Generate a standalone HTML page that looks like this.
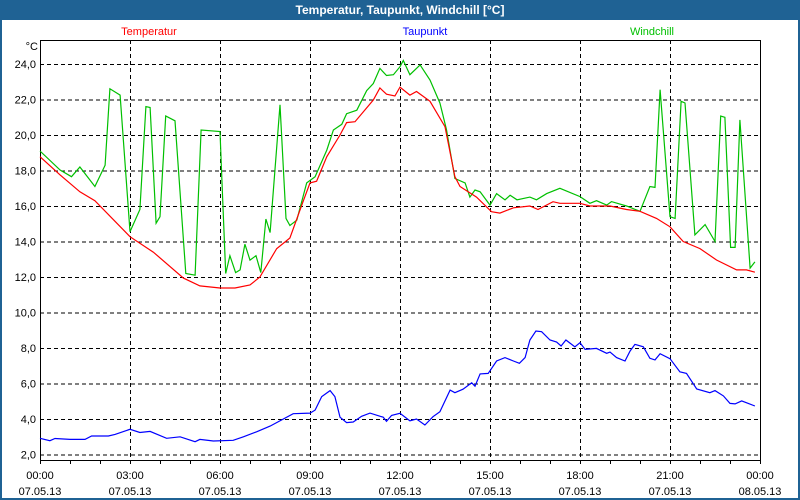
<!DOCTYPE html>
<html><head><meta charset="utf-8"><style>
html,body{margin:0;padding:0;background:#fff}
#wrap{position:absolute;left:0;top:0;width:800px;height:500px;box-sizing:border-box;border:2px solid #1f6294;border-top:none;background:#fff;overflow:hidden}
#title{position:absolute;left:0;top:0;width:800px;height:20px;background:#1f6294;color:#fff;font:bold 12px "Liberation Sans",sans-serif;text-align:center;line-height:20px;z-index:5}
svg{position:absolute;left:0;top:0;z-index:2}
text{font-family:"Liberation Sans",sans-serif;font-size:11px}
</style></head><body>
<div id="wrap"></div>
<div id="title">Temperatur, Taupunkt, Windchill [°C]</div>
<svg id="chart" width="800" height="500"></svg>
<script>
const yTicks=[2,4,6,8,10,12,14,16,18,20,22,24];
const yTickLabels=["2,0","4,0","6,0","8,0","10,0","12,0","14,0","16,0","18,0","20,0","22,0","24,0"];
const xTicks=[0,3,6,9,12,15,18,21,24];
const xTimeLabels=["00:00","03:00","06:00","09:00","12:00","15:00","18:00","21:00","00:00"];
const xDateLabels=["07.05.13","07.05.13","07.05.13","07.05.13","07.05.13","07.05.13","07.05.13","07.05.13","08.05.13"];
const tempHours=[0,0.67,1.33,1.83,3,3.78,4.78,5.33,6,6.5,7,7.33,7.89,8.33,8.78,9,9.22,9.56,10,10.22,10.5,11.11,11.33,11.55,11.83,12,12.33,12.55,13,13.5,13.83,14,14.55,15.05,15.33,15.78,16.33,16.6,17.1,17.33,18,18.33,19,19.55,20,20.55,21,21.44,22,22.55,23.22,23.55,23.83];
const tempValues=[18.78,17.75,16.8,16.3,14.27,13.4,11.94,11.5,11.38,11.38,11.55,12.0,13.6,14.2,16.3,17.3,17.4,18.78,20.0,20.7,20.75,21.97,22.65,22.3,22.2,22.7,22.25,22.45,21.9,20.47,17.65,17.1,16.5,15.68,15.6,15.9,16.0,15.8,16.24,16.15,16.15,16.0,16.0,15.8,15.7,15.3,14.83,14.0,13.6,12.96,12.4,12.4,12.27];
const windHours=[0,0.67,1.05,1.33,1.83,2.17,2.33,2.67,3,3.33,3.53,3.67,3.87,4,4.19,4.5,4.86,5.17,5.37,6,6.06,6.19,6.33,6.52,6.67,6.83,7,7.2,7.36,7.53,7.67,8,8.2,8.33,8.56,8.89,9.17,9.56,9.78,10.06,10.22,10.56,10.89,11.11,11.33,11.55,11.78,12,12.11,12.33,12.67,13,13.33,13.55,13.83,14.17,14.33,14.5,14.67,15,15.22,15.5,15.67,15.9,16.33,16.55,16.89,17.33,18,18.33,18.55,18.89,19.05,19.55,20,20.33,20.5,20.67,21,21.17,21.37,21.5,21.83,22.17,22.5,22.69,22.83,23.02,23.17,23.33,23.67,23.83];
const windValues=[19.1,18.03,17.65,18.2,17.1,18.3,22.6,22.25,14.55,15.8,21.6,21.55,15.03,15.4,21.07,20.8,12.2,12.1,20.28,20.2,17.6,12.2,13.2,12.25,12.4,13.85,12.95,13.2,12.25,15.27,14.5,21.7,15.3,14.9,15.2,17.3,17.65,19.15,20.28,20.6,21.2,21.4,22.5,22.9,23.75,23.35,23.4,23.85,24.2,23.4,23.95,23.1,21.8,20.3,17.55,17.3,16.5,16.9,16.8,16.05,16.7,16.35,16.6,16.35,16.5,16.35,16.7,17.0,16.53,16.15,16.3,16.05,16.25,16.0,15.7,17.1,17.05,22.55,15.4,15.3,21.9,21.8,14.37,14.95,14.0,21.07,21.0,13.67,13.67,20.85,12.5,12.85];
const dewHours=[0,0.33,0.5,1,1.5,1.72,2.28,2.5,3,3.33,3.67,4.22,4.67,5.17,5.33,5.78,6.44,6.78,7.22,7.67,8.44,9,9.17,9.39,9.67,9.83,10,10.22,10.44,10.72,11,11.44,11.55,11.72,12,12.33,12.55,12.83,13.1,13.33,13.67,13.83,14.1,14.39,14.5,14.67,14.94,15.22,15.5,15.78,15.98,16.17,16.33,16.53,16.72,17,17.22,17.37,17.53,17.83,18,18.17,18.55,18.89,19,19.22,19.5,19.67,19.83,20.11,20.33,20.5,20.67,21,21.33,21.55,21.89,22.33,22.5,22.78,23,23.17,23.39,23.61,23.83];
const dewValues=[2.91,2.78,2.9,2.85,2.85,3.04,3.04,3.13,3.42,3.24,3.3,2.91,3.0,2.72,2.85,2.76,2.8,3.0,3.28,3.6,4.3,4.33,4.5,5.26,5.6,5.26,4.1,3.8,3.83,4.15,4.33,4.1,3.87,4.2,4.32,3.9,4.0,3.66,4.13,4.41,5.63,5.48,5.68,6.04,5.85,6.54,6.57,7.27,7.46,7.27,7.14,7.46,8.45,8.96,8.92,8.45,8.34,8.11,8.45,8.06,8.3,7.92,7.98,7.7,7.77,7.46,7.27,7.83,8.2,8.07,7.42,7.33,7.68,7.4,6.66,6.57,5.69,5.48,5.6,5.3,4.88,4.85,5.02,4.88,4.73];

const NS="http://www.w3.org/2000/svg";
const svg=document.getElementById('chart');
const X=h=>40+h*30;
const Y=v=>64+(24-v)*17.75;
function mk(tag,attrs,parent){const e=document.createElementNS(NS,tag);for(const k in attrs)e.setAttribute(k,attrs[k]);(parent||svg).appendChild(e);return e;}
yTicks.forEach((v,i)=>{
  const l=mk('line',{x1:40,x2:760,y1:Y(v)+0.5,y2:Y(v)+0.5,stroke:'#000','stroke-dasharray':'4,3','stroke-width':1});
  
  
  const t=mk('text',{x:36,y:Y(v)+4,'text-anchor':'end',fill:'#000'});
  t.textContent=yTickLabels[i];
  
  
});
xTicks.forEach((h,i)=>{
  if(h>0&&h<24){
    const l=mk('line',{x1:X(h)+0.5,x2:X(h)+0.5,y1:40,y2:460,stroke:'#000','stroke-dasharray':'4,3','stroke-width':1});
    
    
  }
  const t1=mk('text',{x:X(h),y:479,'text-anchor':'middle',fill:'#000'});
  t1.textContent=xTimeLabels[i];
  
  
  const t2=mk('text',{x:X(h),y:495,'text-anchor':'middle',fill:'#000'});
  t2.textContent=xDateLabels[i];
  
  
});
for(let h=0;h<=24;h++){
  const l=mk('line',{x1:X(h)+0.5,x2:X(h)+0.5,y1:460,y2:464,stroke:'#000'});
  
  
}
const frame=mk('rect',{x:40.5,y:40.5,width:720,height:420,fill:'none',stroke:'#000'});


const unit=mk('text',{x:38,y:50,'text-anchor':'end',fill:'#000'});
unit.textContent='°C';


function series(hs,vs,color,name){
  const p=mk('polyline',{points:hs.map((h,i)=>X(h).toFixed(1)+','+Y(vs[i]).toFixed(1)).join(' '),fill:'none',stroke:color,'stroke-width':1.2});
  
  
}
series(dewHours,dewValues,'#0000ff','dewpoint-line');
series(windHours,windValues,'#00c000','windchill-line');
series(tempHours,tempValues,'#ff0000','temperature-line');
[['Temperatur','#ff0000',149],['Taupunkt','#0000ff',425],['Windchill','#00c000',652]].forEach(a=>{
  const t=mk('text',{x:a[2],y:35,'text-anchor':'middle',fill:a[1]});
  t.textContent=a[0];
  
  
});
</script>
</body></html>
